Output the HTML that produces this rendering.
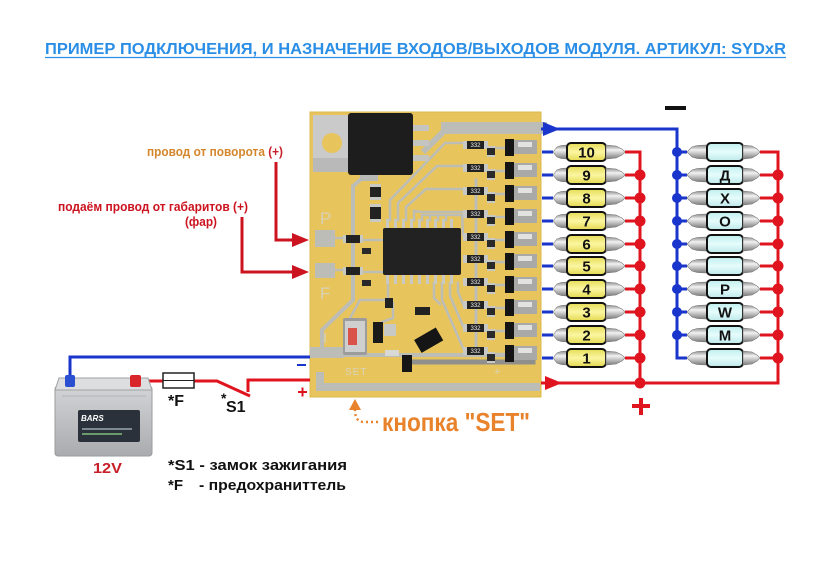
<!DOCTYPE html>
<html><head><meta charset="utf-8">
<style>html,body{margin:0;padding:0;background:#fff}svg{display:block}</style>
</head><body>
<svg width="834" height="576" viewBox="0 0 834 576" xmlns="http://www.w3.org/2000/svg" xmlns:xlink="http://www.w3.org/1999/xlink" font-family="'Liberation Sans','DejaVu Sans',sans-serif" font-weight="bold">
<defs>
  <linearGradient id="cg" x1="0" y1="0" x2="0" y2="1">
    <stop offset="0" stop-color="#8a8a8a"/><stop offset="0.35" stop-color="#f2f2f2"/><stop offset="0.6" stop-color="#c6c6c6"/><stop offset="1" stop-color="#7a7a7a"/>
  </linearGradient>
  <linearGradient id="yg" x1="0" y1="0" x2="0" y2="1">
    <stop offset="0" stop-color="#e6dc55"/><stop offset="0.5" stop-color="#fbf6a2"/><stop offset="1" stop-color="#e3d94f"/>
  </linearGradient>
  <linearGradient id="bg" x1="0" y1="0" x2="0" y2="1">
    <stop offset="0" stop-color="#bfeeee"/><stop offset="0.5" stop-color="#e6fcfc"/><stop offset="1" stop-color="#bde9ea"/>
  </linearGradient>
  <linearGradient id="batg" x1="0" y1="0" x2="0" y2="1">
    <stop offset="0" stop-color="#d2d4d6"/><stop offset="1" stop-color="#a9abae"/>
  </linearGradient>
  <g id="ledL">
    <polygon points="0,0 4,-5 8,-6.5 15,-7 15,7 8,6.5 4,5" fill="url(#cg)" stroke="#777" stroke-width="0.6"/>
    <rect x="14" y="-9" width="39" height="18" rx="4" fill="url(#yg)" stroke="#111" stroke-width="2"/>
    <polygon points="53,-7 63,-6 69,-3 72,0 69,3 63,6 53,7" fill="url(#cg)" stroke="#777" stroke-width="0.6"/>
  </g>
  <g id="ledR">
    <polygon points="0,0 5,-5 10,-6.5 21,-7 21,7 10,6.5 5,5" fill="url(#cg)" stroke="#777" stroke-width="0.6"/>
    <rect x="20" y="-9" width="36" height="18" rx="4" fill="url(#bg)" stroke="#111" stroke-width="2"/>
    <polygon points="56,-7 65,-6 70,-3 73,0 70,3 65,6 56,7" fill="url(#cg)" stroke="#777" stroke-width="0.6"/>
  </g>
  <g id="prow">
    <rect x="514" y="-12" width="23" height="14" fill="#a9a9a7"/>
    <rect x="518" y="-10" width="14" height="5" fill="#e2e2e0"/>
    <rect x="505" y="-13" width="9" height="17" fill="#151515"/>
    <line x1="494" y1="-4" x2="505" y2="-4" stroke="#bdbdb8" stroke-width="2.5"/>
    <rect x="463" y="-11" width="4" height="8" fill="#c8c8c4"/>
    <rect x="467" y="-11" width="17" height="8" fill="#222"/>
    <rect x="484" y="-11" width="4" height="8" fill="#c8c8c4"/>
    <rect x="487" y="-6" width="8" height="2" fill="#c8c8c4"/>
    <rect x="487" y="-4" width="8" height="7" fill="#2a2a2a"/>
    <rect x="487" y="3" width="8" height="2" fill="#c8c8c4"/>
  </g>
</defs>

<rect width="834" height="576" fill="#fff"/>

<!-- Title -->
<text x="45" y="54" font-size="15.5" fill="#2a8ee6" textLength="741" lengthAdjust="spacingAndGlyphs">ПРИМЕР ПОДКЛЮЧЕНИЯ, И НАЗНАЧЕНИЕ ВХОДОВ/ВЫХОДОВ МОДУЛЯ. АРТИКУЛ: SYDxR</text>
<line x1="45" y1="57.5" x2="786" y2="57.5" stroke="#2a8ee6" stroke-width="1.3"/>

<!-- PCB -->
<rect x="310" y="112" width="231" height="285" fill="#e8c55c"/>
<rect x="310" y="112" width="231" height="285" fill="none" stroke="#dcb84f" stroke-width="1"/>
<g fill="none" stroke="#bdbdb8" stroke-linecap="square">
  <path d="M447,128 H541" stroke-width="12"/>
  <path d="M447,128 L425,150" stroke-width="6"/>
  <path d="M365,176 L353,186 V300 L322,330 V352" stroke-width="4"/>
  <path d="M476,180 V355" stroke-width="3"/>
  <path d="M390,220 V200 L445,143 H463" stroke-width="2.5"/>
  <path d="M398,220 V203 L437,166 H463" stroke-width="2.5"/>
  <path d="M406,220 V207 L426,189 H463" stroke-width="2.5"/>
  <path d="M414,220 V211 L421,212 H463" stroke-width="2.5"/>
  <path d="M422,220 V215 L462,215 L463,235" stroke-width="2.5"/>
  <path d="M430,220 V216" stroke-width="2.5"/>
  <path d="M438,220 V216" stroke-width="2.5"/>
  <path d="M446,220 V216" stroke-width="2.5"/>
  <path d="M458,283 V292 L463,304" stroke-width="2.5"/>
  <path d="M450,283 V296 L463,326" stroke-width="2.5"/>
  <path d="M442,283 V300 L463,348" stroke-width="2.5"/>
  <path d="M434,283 V298 L440,304" stroke-width="2.5"/>
  <path d="M335,238 H345 M362,240 H383" stroke-width="2.5"/>
  <path d="M335,270 H345 M362,272 H383" stroke-width="2.5"/>
  <path d="M388,283 V300 L360,300 L350,318" stroke-width="2.5"/>
  <path d="M393,303 V318 L382,322" stroke-width="2.5"/>
  <path d="M345,355 H533" stroke-width="4"/>
  <path d="M412,362 H533" stroke-width="5" stroke="#8f8f8c"/>
</g>
<rect x="310" y="347" width="34" height="11" fill="#bdbdb8"/>
<rect x="316" y="383" width="224" height="8" fill="#bdbdb8"/>
<rect x="316" y="372" width="8" height="19" fill="#bdbdb8"/>
<rect x="313" y="115" width="38" height="57" fill="#cacaca"/>
<rect x="313" y="158" width="38" height="14" fill="#b9b9b9"/>
<circle cx="332" cy="143" r="10" fill="#e8c55c"/>
<rect x="348" y="113" width="65" height="62" rx="3" fill="#1d1d1d"/>
<rect x="413" y="125" width="16" height="6" fill="#c4c4c0"/>
<rect x="413" y="140" width="16" height="6" fill="#c4c4c0"/>
<rect x="413" y="155" width="16" height="6" fill="#c4c4c0"/>
<rect x="360" y="175" width="18" height="6" fill="#b8b8b4"/>
<rect x="370" y="184" width="11" height="3" fill="#c8c8c4"/>
<rect x="370" y="187" width="11" height="10" fill="#222"/>
<rect x="370" y="197" width="11" height="3" fill="#c8c8c4"/>
<rect x="370" y="204" width="11" height="3" fill="#c8c8c4"/>
<rect x="370" y="207" width="11" height="12" fill="#222"/>
<rect x="370" y="219" width="11" height="3" fill="#c8c8c4"/>
<g fill="#c8c8c4">
  <rect x="386" y="219" width="3" height="9"/><rect x="394" y="219" width="3" height="9"/><rect x="402" y="219" width="3" height="9"/><rect x="410" y="219" width="3" height="9"/><rect x="418" y="219" width="3" height="9"/><rect x="426" y="219" width="3" height="9"/><rect x="434" y="219" width="3" height="9"/><rect x="442" y="219" width="3" height="9"/><rect x="450" y="219" width="3" height="9"/>
  <rect x="386" y="275" width="3" height="9"/><rect x="394" y="275" width="3" height="9"/><rect x="402" y="275" width="3" height="9"/><rect x="410" y="275" width="3" height="9"/><rect x="418" y="275" width="3" height="9"/><rect x="426" y="275" width="3" height="9"/><rect x="434" y="275" width="3" height="9"/><rect x="442" y="275" width="3" height="9"/><rect x="450" y="275" width="3" height="9"/>
</g>
<rect x="383" y="228" width="78" height="47" rx="2" fill="#222"/>
<rect x="315" y="230" width="20" height="17" fill="#bdbdb8"/>
<rect x="315" y="263" width="20" height="15" fill="#bdbdb8"/>
<rect x="343" y="235" width="3" height="8" fill="#c8c8c4"/><rect x="346" y="235" width="14" height="8" fill="#222"/><rect x="360" y="235" width="3" height="8" fill="#c8c8c4"/>
<rect x="343" y="267" width="3" height="8" fill="#c8c8c4"/><rect x="346" y="267" width="14" height="8" fill="#222"/><rect x="360" y="267" width="3" height="8" fill="#c8c8c4"/>
<rect x="362" y="248" width="9" height="6" fill="#2a2a2a"/>
<rect x="362" y="280" width="9" height="6" fill="#2a2a2a"/>
<text x="320" y="224" font-size="17" font-weight="normal" fill="#d8d1b6">P</text>
<text x="320" y="299" font-size="17" font-weight="normal" fill="#d8d1b6">F</text>
<text x="323" y="343" font-size="15" font-weight="normal" fill="#d8d1b6">I</text>
<rect x="343" y="318" width="24" height="37" rx="2" fill="#9c9c9c"/>
<rect x="345" y="321" width="20" height="31" fill="#cfcfcf"/>
<rect x="348" y="328" width="9" height="17" fill="#d9534a"/>
<rect x="373" y="322" width="10" height="21" fill="#1a1a1a"/>
<rect x="385" y="298" width="8" height="10" fill="#222"/>
<rect x="384" y="324" width="12" height="12" fill="#c8c8c4"/>
<rect x="385" y="350" width="14" height="6" fill="#d8d8d4"/>
<rect x="415" y="307" width="15" height="8" fill="#222"/>
<rect x="416" y="333" width="25" height="15" fill="#151515" transform="rotate(-30 428 340)"/>
<rect x="402" y="355" width="10" height="17" fill="#151515"/>
<text x="345" y="375" font-size="10" font-weight="normal" fill="#d9d3bd" letter-spacing="1">SET</text>
<text x="494" y="375" font-size="11" font-weight="normal" fill="#d9d3bd">+</text>
<use xlink:href="#prow" href="#prow" x="0" y="152"/>
<use xlink:href="#prow" href="#prow" x="0" y="175"/>
<use xlink:href="#prow" href="#prow" x="0" y="198"/>
<use xlink:href="#prow" href="#prow" x="0" y="221"/>
<use xlink:href="#prow" href="#prow" x="0" y="244"/>
<use xlink:href="#prow" href="#prow" x="0" y="266"/>
<use xlink:href="#prow" href="#prow" x="0" y="289"/>
<use xlink:href="#prow" href="#prow" x="0" y="312"/>
<use xlink:href="#prow" href="#prow" x="0" y="335"/>
<use xlink:href="#prow" href="#prow" x="0" y="358"/>
<g font-size="6" font-weight="normal" fill="#eee" text-anchor="middle">
  <text x="475.5" y="147">332</text><text x="475.5" y="170">332</text><text x="475.5" y="193">332</text><text x="475.5" y="216">332</text><text x="475.5" y="239">332</text><text x="475.5" y="261">332</text><text x="475.5" y="284">332</text><text x="475.5" y="307">332</text><text x="475.5" y="330">332</text><text x="475.5" y="353">332</text>
</g>

<!-- Left input labels and arrows -->
<text x="147" y="156" font-size="13" fill="#d4862c" textLength="136" lengthAdjust="spacingAndGlyphs">провод от поворота <tspan fill="#c8202a">(+)</tspan></text>
<text x="58" y="211" font-size="13" fill="#cc1420" textLength="190" lengthAdjust="spacingAndGlyphs">подаём провод от габаритов (+)</text>
<text x="185" y="226" font-size="13" fill="#cc1420" textLength="32" lengthAdjust="spacingAndGlyphs">(фар)</text>
<g fill="none" stroke="#cc1420" stroke-width="3">
  <path d="M276,162 V240 H294"/>
  <path d="M242,217 V272 H294"/>
</g>
<polygon points="292,233 292,247 309,240" fill="#cc1420"/>
<polygon points="292,265 292,279 309,272" fill="#cc1420"/>

<!-- Battery wiring -->
<path d="M70,383 V357 H310" fill="none" stroke="#1a35cc" stroke-width="3"/>
<path d="M135,381 H163 M194,381 H217 L250,396" fill="none" stroke="#e0141e" stroke-width="3"/>
<path d="M248,392 V380 H310" fill="none" stroke="#e0141e" stroke-width="3"/>
<rect x="163" y="373" width="31" height="15" fill="#fff" stroke="#222" stroke-width="1.5"/>
<line x1="163" y1="380.5" x2="194" y2="380.5" stroke="#222" stroke-width="1"/>
<line x1="297" y1="365" x2="306" y2="365" stroke="#1a35cc" stroke-width="2"/>
<path d="M298,392 H307 M302.5,387.5 V396.5" stroke="#e0141e" stroke-width="2"/>
<text x="168" y="406" font-size="16" fill="#111">*F</text>
<text x="221" y="403" font-size="14" fill="#111">*</text>
<text x="226" y="412" font-size="16" fill="#111">S1</text>

<!-- Battery -->
<rect x="55" y="386" width="97" height="70" rx="3" fill="url(#batg)" stroke="#9a9c9e" stroke-width="1"/>
<polygon points="59,378 148,378 152,390 55,390" fill="#dcdee0" stroke="#a0a2a4" stroke-width="1"/>
<rect x="62" y="395" width="84" height="2" fill="#bfc1c3"/>
<rect x="78" y="410" width="62" height="32" rx="2" fill="#2b313a"/>
<text x="81" y="421" font-size="8" font-style="italic" fill="#fff">BARS</text>
<rect x="82" y="428" width="50" height="2" fill="#7d8a90"/>
<rect x="82" y="433" width="40" height="2" fill="#6a9a6a"/>
<rect x="65" y="375" width="10" height="12" rx="2" fill="#2a4fd0"/>
<rect x="130" y="375" width="11" height="12" rx="2" fill="#d8262a"/>
<text x="93" y="473" font-size="15" fill="#c8202a" textLength="29" lengthAdjust="spacingAndGlyphs">12V</text>

<!-- Legend -->
<text x="168" y="470" font-size="15" fill="#111" textLength="179" lengthAdjust="spacingAndGlyphs">*S1 - замок зажигания</text>
<text x="168" y="490" font-size="15" fill="#111">*F</text>
<text x="199" y="490" font-size="15" fill="#111" textLength="147" lengthAdjust="spacingAndGlyphs">- предохраниттель</text>

<!-- SET button label -->
<path d="M378,422 H364 Q355,422 355,410" fill="none" stroke="#e8832c" stroke-width="2.5" stroke-dasharray="2,3"/>
<polygon points="349,410 361,410 355,399" fill="#e8832c"/>
<text x="382" y="431" font-size="26" fill="#e8832c" textLength="148" lengthAdjust="spacingAndGlyphs">кнопка "SET"</text>

<!-- Minus / plus signs -->
<rect x="665" y="106" width="21" height="4" fill="#111"/>
<rect x="632" y="404" width="18" height="4" fill="#e0141e"/>
<rect x="639" y="398" width="4" height="17" fill="#e0141e"/>

<!-- Blue wiring -->
<g fill="none" stroke="#1a35cc" stroke-width="3">
  <path d="M541,129 H677 V358 H687"/>
  <path d="M542,152H553 M542,175H553 M542,198H553 M542,221H553 M542,244H553 M542,266H553 M542,289H553 M542,312H553 M542,335H553 M542,358H553"/>
  <path d="M677,152H687 M677,175H687 M677,198H687 M677,221H687 M677,244H687 M677,266H687 M677,289H687 M677,312H687 M677,335H687"/>
</g>
<polygon points="543,122 543,136 560,129" fill="#1a35cc"/>
<g fill="#1a35cc">
  <circle cx="677" cy="152" r="5"/><circle cx="677" cy="175" r="5"/><circle cx="677" cy="198" r="5"/><circle cx="677" cy="221" r="5"/><circle cx="677" cy="244" r="5"/><circle cx="677" cy="266" r="5"/><circle cx="677" cy="289" r="5"/><circle cx="677" cy="312" r="5"/><circle cx="677" cy="335" r="5"/>
</g>

<!-- Red wiring -->
<g fill="none" stroke="#e0141e" stroke-width="3">
  <path d="M625,152 H640 V383"/>
  <path d="M541,383 H778 V152 H760"/>
  <path d="M625,175H640 M625,198H640 M625,221H640 M625,244H640 M625,266H640 M625,289H640 M625,312H640 M625,335H640 M625,358H640"/>
  <path d="M760,175H778 M760,198H778 M760,221H778 M760,244H778 M760,266H778 M760,289H778 M760,312H778 M760,335H778 M760,358H778"/>
</g>
<polygon points="545,376 545,390 562,383" fill="#e0141e"/>
<g fill="#e0141e">
  <circle cx="640" cy="175" r="5.5"/><circle cx="640" cy="198" r="5.5"/><circle cx="640" cy="221" r="5.5"/><circle cx="640" cy="244" r="5.5"/><circle cx="640" cy="266" r="5.5"/><circle cx="640" cy="289" r="5.5"/><circle cx="640" cy="312" r="5.5"/><circle cx="640" cy="335" r="5.5"/><circle cx="640" cy="358" r="5.5"/><circle cx="640" cy="383" r="5.5"/>
  <circle cx="778" cy="175" r="5.5"/><circle cx="778" cy="198" r="5.5"/><circle cx="778" cy="221" r="5.5"/><circle cx="778" cy="244" r="5.5"/><circle cx="778" cy="266" r="5.5"/><circle cx="778" cy="289" r="5.5"/><circle cx="778" cy="312" r="5.5"/><circle cx="778" cy="335" r="5.5"/><circle cx="778" cy="358" r="5.5"/>
</g>

<!-- LEDs left -->
<use xlink:href="#ledL" href="#ledL" x="553" y="152"/>
<use xlink:href="#ledL" href="#ledL" x="553" y="175"/>
<use xlink:href="#ledL" href="#ledL" x="553" y="198"/>
<use xlink:href="#ledL" href="#ledL" x="553" y="221"/>
<use xlink:href="#ledL" href="#ledL" x="553" y="244"/>
<use xlink:href="#ledL" href="#ledL" x="553" y="266"/>
<use xlink:href="#ledL" href="#ledL" x="553" y="289"/>
<use xlink:href="#ledL" href="#ledL" x="553" y="312"/>
<use xlink:href="#ledL" href="#ledL" x="553" y="335"/>
<use xlink:href="#ledL" href="#ledL" x="553" y="358"/>
<g font-size="15" fill="#111" text-anchor="middle">
  <text x="586.5" y="157.5">10</text><text x="586.5" y="180.5">9</text><text x="586.5" y="203.5">8</text><text x="586.5" y="226.5">7</text><text x="586.5" y="249.5">6</text><text x="586.5" y="271.5">5</text><text x="586.5" y="294.5">4</text><text x="586.5" y="317.5">3</text><text x="586.5" y="340.5">2</text><text x="586.5" y="363.5">1</text>
</g>

<!-- LEDs right -->
<use xlink:href="#ledR" href="#ledR" x="687" y="152"/>
<use xlink:href="#ledR" href="#ledR" x="687" y="175"/>
<use xlink:href="#ledR" href="#ledR" x="687" y="198"/>
<use xlink:href="#ledR" href="#ledR" x="687" y="221"/>
<use xlink:href="#ledR" href="#ledR" x="687" y="244"/>
<use xlink:href="#ledR" href="#ledR" x="687" y="266"/>
<use xlink:href="#ledR" href="#ledR" x="687" y="289"/>
<use xlink:href="#ledR" href="#ledR" x="687" y="312"/>
<use xlink:href="#ledR" href="#ledR" x="687" y="335"/>
<use xlink:href="#ledR" href="#ledR" x="687" y="358"/>
<g font-size="15" fill="#111" text-anchor="middle">
  <text x="725" y="180.5">Д</text><text x="725" y="203.5">Х</text><text x="725" y="226.5">О</text><text x="725" y="294.5">Р</text><text x="725" y="317.5">W</text><text x="725" y="340.5">М</text>
</g>
</svg>
</body></html>
